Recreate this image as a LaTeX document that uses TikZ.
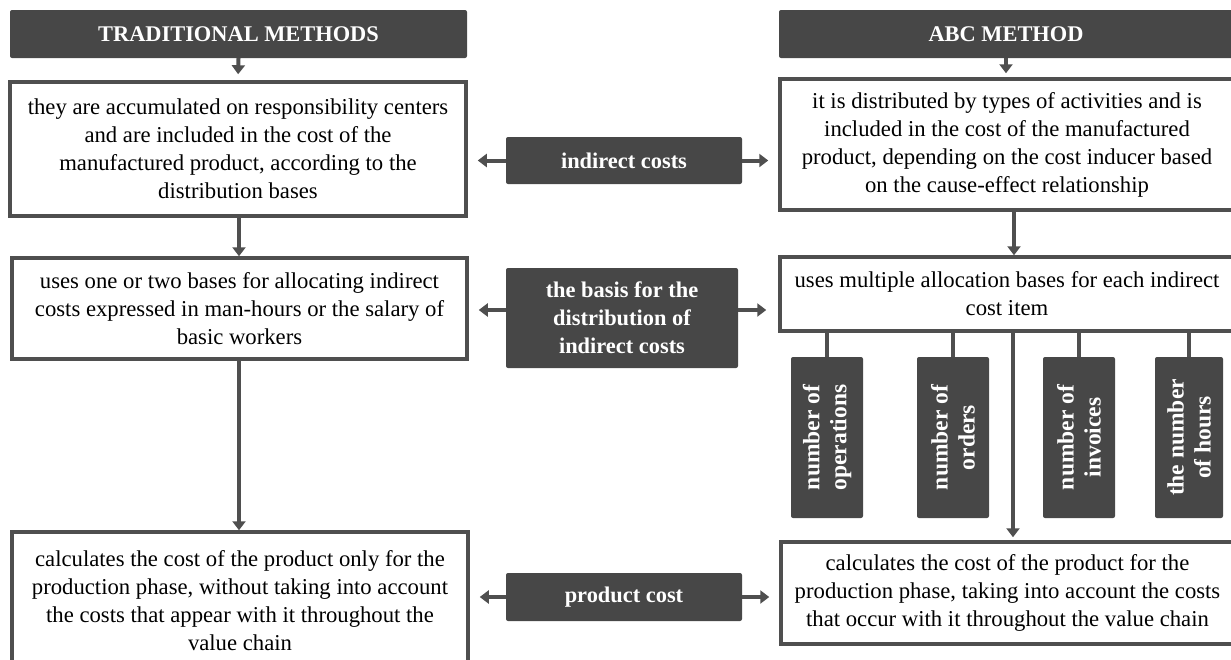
\documentclass[tikz,border=0pt]{standalone}
\usepackage{fontspec}
\setmainfont{Liberation Serif}
\usetikzlibrary{arrows.meta}
\definecolor{darkbox}{HTML}{474747}
\definecolor{edgegray}{HTML}{4F4F4F}
\begin{document}
\begin{tikzpicture}[x=1pt,y=-1pt,
  darkhead/.style={fill=darkbox, draw=none, rounded corners=2pt, text=white,
    font=\fontsize{22.4}{28}\selectfont\bfseries, inner sep=0pt, align=center},
  whitebox/.style={fill=white, draw=edgegray, line width=3.5pt, text=black,
    font=\fontsize{22.7}{28}\selectfont, inner sep=0pt, align=center},
  vbox/.style={darkhead, rotate=90, minimum width=161pt,
    font=\fontsize{23.5}{27}\selectfont\bfseries},
  arr/.style={draw=edgegray, line width=4pt, -{Triangle[length=9pt,width=13pt]}},
  plainline/.style={draw=edgegray, line width=4pt}
]
\useasboundingbox (0,0) rectangle (1231,659);

% headers
\node[darkhead, minimum width=457pt, minimum height=48pt] (lh) at (238.5,34) {TRADITIONAL METHODS};
\node[darkhead, minimum width=454pt, minimum height=48pt] (rh) at (1006,34) {ABC METHOD};

% left column
\node[whitebox, minimum width=456pt, minimum height=134pt] (lb1) at (238,149)
  {they are accumulated on responsibility centers\\and are included in the cost of the\\manufactured product, according to the\\distribution bases};
\node[whitebox, minimum width=455pt, minimum height=101pt] (lb2) at (239.5,308.5)
  {uses one or two bases for allocating indirect\\costs expressed in man-hours or the salary of\\basic workers};
\node[whitebox, minimum width=456pt, minimum height=138pt] (lb3) at (240,601)
  {calculates the cost of the product only for the\\production phase, without taking into account\\the costs that appear with it throughout the\\value chain};

% right column
\node[whitebox, minimum width=454pt, minimum height=131pt] (rb1) at (1007,144.5)
  {it is distributed by types of activities and is\\included in the cost of the manufactured\\product, depending on the cost inducer based\\on the cause-effect relationship};
\node[whitebox, minimum width=454pt, minimum height=74pt] (rb2) at (1007,294)
  {uses multiple allocation bases for each indirect\\cost item};
\node[whitebox, minimum width=453pt, minimum height=102pt] (rb3) at (1007.5,593)
  {calculates the cost of the product for the\\production phase, taking into account the costs\\that occur with it throughout the value chain};

% middle labels
\node[darkhead, minimum width=236pt, minimum height=47pt] (m1) at (624,160.5) {indirect costs};
\node[darkhead, minimum width=232pt, minimum height=100pt] (m2) at (622,318)
  {the basis for the\\distribution of\\indirect costs};
\node[darkhead, minimum width=236pt, minimum height=48pt] (m3) at (624,597) {product cost};

% vertical bases
\node[vbox, minimum height=72pt] (v1) at (827,437.5) {number of\\operations};
\node[vbox, minimum height=72pt] (v2) at (953,437.5) {number of\\orders};
\node[vbox, minimum height=72pt] (v3) at (1079,437.5) {number of\\invoices};
\node[vbox, minimum height=68pt] (v4) at (1189,437.5) {the number\\of hours};

% vertical arrows
\draw[arr, shorten >=6pt] (lh.south) -- (lb1.north);
\draw[arr] ([xshift=1pt]lb1.south) -- ([xshift=1pt]lb1.south |- lb2.north);
\draw[arr] ([xshift=1pt]lb1.south |- lb2.south) -- ([xshift=1pt]lb1.south |- lb3.north);
\draw[arr, shorten >=4pt] (rh.south) -- (rh.south |- rb1.north);
\draw[arr] ([xshift=7pt]rb1.south) -- ([xshift=7pt]rb1.south |- rb2.north);
\draw[arr, shorten >=3pt] ([xshift=6pt]rb2.south) -- ([xshift=6pt]rb2.south |- rb3.north);

% lines to the bases
\foreach \v in {v1,v2,v3,v4}
  \draw[plainline] (\v.east) -- (\v.east |- rb2.south);

% horizontal arrows
\draw[arr, shorten >=10pt] (m1.west) -- (m1.west -| lb1.east);
\draw[arr, shorten >=10pt] (m1.east) -- (m1.east -| rb1.west);
\draw[arr, shorten >=10pt] ([yshift=8pt]m2.west) -- ([yshift=8pt]m2.west -| lb2.east);
\draw[arr, shorten >=12pt] ([yshift=8pt]m2.east) -- ([yshift=8pt]m2.east -| rb2.west);
\draw[arr, shorten >=10pt] (m3.west) -- (m3.west -| lb3.east);
\draw[arr, shorten >=10pt] (m3.east) -- (m3.east -| rb3.west);
\end{tikzpicture}
\end{document}
